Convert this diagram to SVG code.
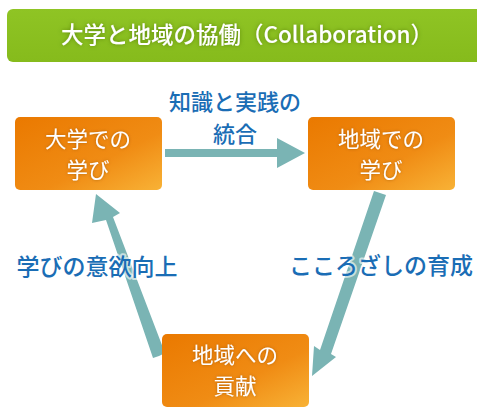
<svg xmlns="http://www.w3.org/2000/svg" width="477" height="408" viewBox="0 0 477 408">
<style>
.node-text{font-family:"Noto Sans CJK JP","Noto Sans",sans-serif;font-size:21.5px;fill:#ffffff;text-anchor:middle;filter:url(#glow)}
.label{font-family:"Noto Sans CJK JP","Noto Sans",sans-serif;font-size:23px;font-weight:500;fill:#1a6db5;text-anchor:middle;stroke:#ffffff;stroke-width:4px;stroke-opacity:0.6;paint-order:stroke;stroke-linejoin:round}
.arrow{fill:#7ab4b4}
</style>
<defs>
<linearGradient id="og" x1="0" y1="0" x2="1" y2="1">
<stop offset="0" stop-color="#ea7900"/>
<stop offset="0.6" stop-color="#f08c14"/>
<stop offset="1" stop-color="#f8b236"/>
</linearGradient>
<linearGradient id="gg" x1="0" y1="0" x2="0" y2="1">
<stop offset="0" stop-color="#8fc424"/>
<stop offset="1" stop-color="#86bb1c"/>
</linearGradient>
<filter id="glow" x="-20%" y="-30%" width="140%" height="160%">
<feGaussianBlur in="SourceAlpha" stdDeviation="2"/>
<feFlood flood-color="#8a4a00" flood-opacity="0.6"/>
<feComposite operator="in" in2="SourceAlpha"/>
<feGaussianBlur stdDeviation="1.5" result="s"/>
<feMerge><feMergeNode in="s"/><feMergeNode in="SourceGraphic"/></feMerge>
</filter>
<filter id="tglow" x="-10%" y="-30%" width="120%" height="160%">
<feGaussianBlur in="SourceAlpha" stdDeviation="2" result="b"/>
<feFlood flood-color="#4a7000" flood-opacity="0.7"/>
<feComposite operator="in" in2="b" result="s"/>
<feMerge><feMergeNode in="s"/><feMergeNode in="SourceGraphic"/></feMerge>
</filter>
</defs>

<g id="title">
<rect x="7" y="9" width="480" height="53" rx="6" fill="url(#gg)"/>
<text x="247" y="43" font-family="Noto Sans CJK JP,Noto Sans,sans-serif" font-size="22.5" font-weight="500" fill="#ffffff" text-anchor="middle" filter="url(#tglow)">大学と地域の協働（Collaboration）</text>
</g>

<g id="connectors">
<path class="arrow" d="M165,149 L277,149 L277,138 L305,153 L277,168 L277,157 L165,157 Z"/>
<path class="arrow" d="M380,193 L386,195 L331,354 L336,357 L312,376 L314,346 L320,350 L374,191 Z"/>
<path class="arrow" d="M159,356 L165,353 L113,217 L120,213 L96,194 L92,223 L106,220 L153,358 Z"/>
</g>

<g id="label-top">
<text class="label" style="font-size:22px"><tspan x="235" y="110">知識と実践の</tspan><tspan x="235" y="142">統合</tspan></text>
</g>
<g id="label-left">
<text class="label" x="97" y="275">学びの意欲向上</text>
</g>
<g id="label-right">
<text class="label" x="381" y="274">こころざしの育成</text>
</g>

<g id="node-univ">
<rect x="15" y="117" width="147" height="73" rx="5" fill="url(#og)"/>
<text class="node-text"><tspan x="88" y="147">大学での</tspan><tspan x="88" y="178">学び</tspan></text>
</g>
<g id="node-region">
<rect x="308" y="117" width="147" height="73" rx="5" fill="url(#og)"/>
<text class="node-text"><tspan x="381" y="147">地域での</tspan><tspan x="381" y="178">学び</tspan></text>
</g>
<g id="node-contrib">
<rect x="162" y="334" width="147" height="73" rx="5" fill="url(#og)"/>
<text class="node-text"><tspan x="235" y="363">地域への</tspan><tspan x="235" y="394">貢献</tspan></text>
</g>
</svg>
